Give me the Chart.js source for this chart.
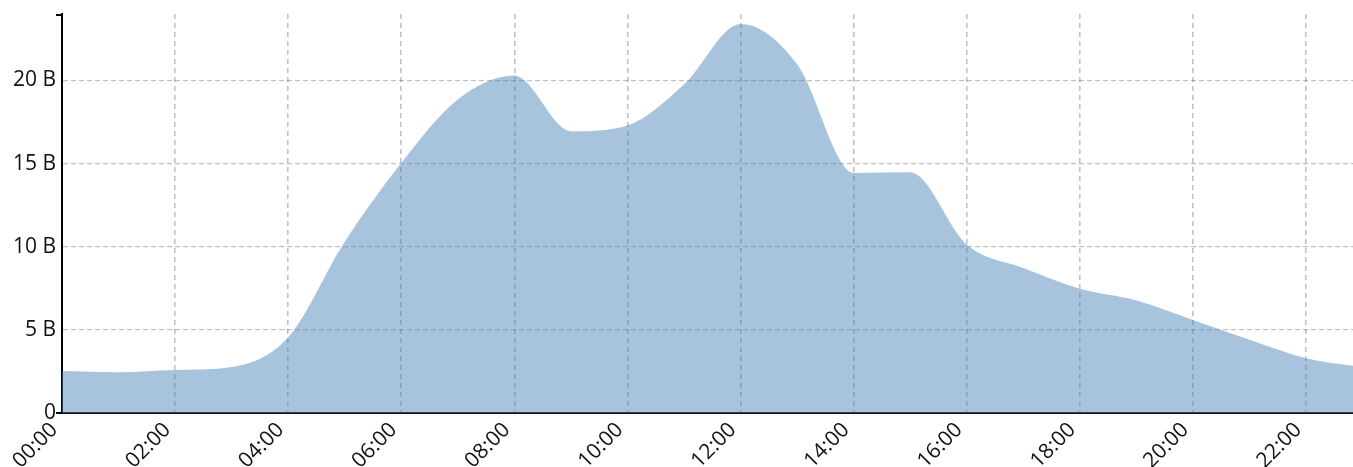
<!DOCTYPE html>
<html>
<head>
<meta charset="utf-8">
<script src="https://cdn.jsdelivr.net/npm/chart.js@4"></script>
<style>
  html, body { margin: 0; padding: 0; background: #fff; }
  #wrap { width: 1353px; height: 467px; position: relative; }
</style>
</head>
<body>
<div id="wrap"><canvas id="c" width="1353" height="467"></canvas></div>
<script>
// Hours of the day (data points)
const hours = [0,1,2,3,4,5,6,7,8,9,10,11,12,13,14,15,16,17,18,19,20,21,22,23];
// Values in billions (B)
const values = [2.52,2.45,2.58,2.76,4.55,10.3,15.04,18.86,20.3,16.95,17.3,19.76,23.4,20.98,14.44,14.48,10.12,8.72,7.47,6.77,5.6,4.4,3.3,2.75];
// X tick positions (hours) and Y tick values
const xTicks = [0,2,4,6,8,10,12,14,16,18,20,22];
const yTicks = [0,5,10,15,20];

const pts = hours.map((h, i) => ({ x: h, y: values[i] }));

const FONT = { family: 'Open Sans', size: 21 };

new Chart(document.getElementById('c'), {
  type: 'line',
  data: {
    datasets: [{
      data: pts,
      fill: 'origin',
      backgroundColor: 'rgba(70,130,180,0.47)',
      borderWidth: 0,
      borderColor: 'rgba(0,0,0,0)',
      pointRadius: 0,
      cubicInterpolationMode: 'monotone'
    }]
  },
  options: {
    responsive: false,
    animation: false,
    events: [],
    layout: { autoPadding: false, padding: { top: 14, right: 0, left: 0, bottom: 0 } },
    plugins: { legend: { display: false }, tooltip: { enabled: false } },
    scales: {
      x: {
        type: 'linear',
        min: 0,
        max: 22.83,
        afterBuildTicks: (s) => { s.ticks = xTicks.map(v => ({ value: v })); },
        afterFit: (s) => { s.height = 54; s.paddingLeft = 0; s.paddingRight = 0; },
        grid: { color: 'rgba(0,0,0,0.24)', lineWidth: 1.6, drawTicks: false, tickLength: 0 },
        border: { display: true, color: '#111', width: 2, dash: [5, 4] },
        ticks: {
          minRotation: 45,
          maxRotation: 45,
          autoSkip: false,
          padding: -3,
          color: '#111',
          font: FONT,
          callback: (v) => String(v).padStart(2, '0') + ':00  '
        }
      },
      y: {
        type: 'linear',
        min: 0,
        max: 24,
        afterBuildTicks: (s) => { s.ticks = yTicks.map(v => ({ value: v })); },
        afterFit: (s) => { s.width = 62; s.paddingTop = 0; s.paddingBottom = 0; },
        grid: { color: 'rgba(0,0,0,0.24)', lineWidth: 1.2, drawTicks: false, tickLength: 0 },
        border: { display: true, color: '#000', width: 2, dash: [5, 3] },
        ticks: {
          padding: 6,
          color: '#111',
          font: FONT,
          callback: (v) => v === 0 ? '0' : v + ' B'
        }
      }
    }
  },
  plugins: [{
    id: 'outerTicks',
    afterDraw(chart) {
      const ctx = chart.ctx, a = chart.chartArea;
      ctx.save();
      ctx.strokeStyle = '#000';
      ctx.lineWidth = 2;
      ctx.beginPath();
      ctx.moveTo(a.left - 6, a.top + 1);
      ctx.lineTo(a.left, a.top + 1);
      ctx.moveTo(a.left - 6, a.bottom);
      ctx.lineTo(a.left, a.bottom);
      ctx.stroke();
      ctx.restore();
    }
  }]
});
</script>
</body>
</html>
